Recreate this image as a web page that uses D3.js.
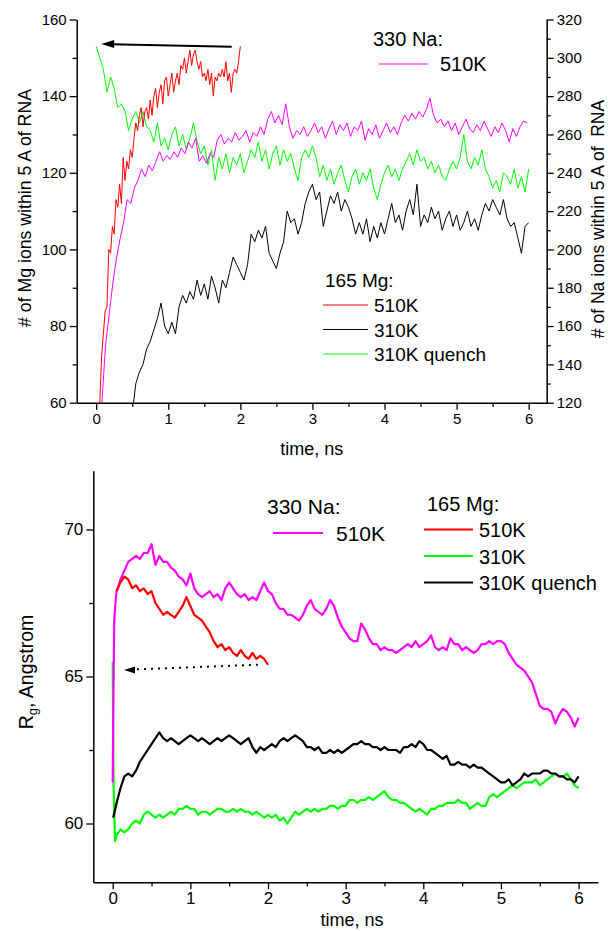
<!DOCTYPE html>
<html><head><meta charset="utf-8">
<script src="https://cdn.jsdelivr.net/npm/d3@7"></script>
<style>
body{margin:0;background:#fff}
svg{display:block}
text{font-family:"Liberation Sans",Arial,sans-serif;fill:#000}
</style></head>
<body><svg id="c" width="608" height="931"></svg>
<script>
// ---------- TOP PANEL DATA (ions within 5 A of RNA) ----------
// 165 Mg, 510K (Mg count), t from 0.05 ns, step 0.025 ns
const mg510Start = 0.05, mg510Step = 0.025;
const mg510 = [60,72,78,84,85,100,99,106,104,113,111,117,112,124,118,123,121,126,124,129,133,131,135,137,132,136,137,134,139,135,140,142,137,141,143,138,144,145,140,143,146,141,144,146,143,148,147,150,146,149,152,148,151,152,149,147,149,145,146,144,147,143,146,140,145,144,146,145,147,145,149,144,146,141,146,147,146,149,153];
// 165 Mg, 310K (Mg count), t from 0.5 ns, step 0.05
const mg310Start = 0.5, mg310Step = 0.05;
const mg310 = [57,65,68,70,74,76,79,82,86,80,78,81,78,85,88,86,89,87,92,88,91,87,93,90,86,92,90,94,98,96,94,92,96,104,102,105,103,106,99,97,95,99,102,110,107,108,104,107,112,115,117,113,115,106,110,114,112,115,110,113,111,108,104,107,104,108,102,106,103,107,104,108,112,107,109,105,110,113,109,117,106,109,107,111,108,110,105,108,110,106,109,105,107,110,106,108,105,109,112,110,113,111,109,113,108,106,107,103,99,106,107];
// 165 Mg, 310K quench (Mg count), t from 0 ns, step 0.05
const mgQStart = 0, mgQStep = 0.05;
const mgQuench = [153,150,147,141,145,142,137,138,136,131,134,136,133,136,132,131,128,133,127,129,126,130,132,127,130,126,129,133,128,125,127,122,126,118,124,121,125,120,124,122,125,120,123,126,124,128,123,126,121,125,127,122,126,123,125,121,118,124,126,124,127,124,119,122,118,121,117,120,122,118,115,119,121,117,120,118,121,116,113,117,120,122,119,121,118,121,123,125,122,126,123,124,121,123,120,122,119,118,121,123,121,124,130,123,121,124,122,126,121,119,116,118,115,120,119,117,121,116,119,115,121];
// 330 Na, 510K (Na count, right axis), t from 0.08 ns, step 0.05
const na510Start = 0.08, na510Step = 0.05;
const na510 = [120,150,166,182,195,205,214,226,224,232,236,242,238,244,241,246,251,246,249,247,251,248,253,250,256,253,258,246,249,245,250,248,257,260,255,258,256,261,257,259,262,256,261,259,264,260,268,272,266,270,265,276,264,258,262,260,264,259,262,266,261,264,258,263,267,260,265,262,266,259,264,262,267,257,263,260,265,258,262,266,261,264,260,266,270,267,271,268,272,269,273,279,270,266,268,264,267,262,266,260,264,268,263,261,265,262,267,263,259,264,261,266,262,256,263,259,264,267,266];

// ---------- BOTTOM PANEL DATA (Rg, Angstrom) ----------
// the first frames are sampled finely ([t, Rg] pairs), the rest every 0.05 ns
const rgStep = 0.05;
const rgNa510Head = [[0,61.4],[0.01,64.6],[0.02,66.9],[0.035,67.5]];
const rgNa510Start = 0.05;
const rgNa510 = [67.9,68.3,68.6,68.9,69.0,69.1,69.0,69.2,69.2,69.5,68.8,69.1,68.9,68.9,68.7,68.6,68.4,68.3,68.1,68.5,68.0,67.8,67.7,67.8,67.9,67.7,67.8,67.6,68.0,68.2,68.0,67.8,67.7,67.8,67.6,67.7,67.6,67.9,68.2,67.9,67.8,67.5,67.3,67.3,67.1,67.1,67.0,66.9,67.1,67.4,67.6,67.3,67.2,67.1,67.3,67.6,67.4,67.0,66.7,66.5,66.3,66.2,66.2,66.8,66.6,66.3,66.1,66.1,65.9,66.0,65.9,65.9,65.8,65.9,66.0,66.1,66.0,66.2,66.0,66.1,66.2,66.4,66.0,65.9,66.0,65.9,66.3,66.1,66.1,65.9,66.0,65.9,65.8,65.9,66.1,66.1,66.2,66.1,66.2,66.2,66.1,65.8,65.6,65.4,65.3,65.2,65.0,64.8,64.4,64.0,63.9,63.9,63.8,63.4,63.7,63.9,63.8,63.6,63.3,63.6];
const rgMg510Start = 0.05;
const rgMg510 = [67.9,68.2,68.4,68.3,68.0,68.1,67.9,68.0,67.8,67.9,67.5,67.3,67.1,67.2,67.1,67.0,67.2,67.4,67.7,67.4,67.1,67.0,66.9,66.7,66.5,66.2,66.0,66.1,65.9,66.0,65.8,65.7,65.9,65.7,65.6,65.8,65.6,65.7,65.6,65.4];
const rgMg310Head = [[0,65.5],[0.01,61.4],[0.03,59.4]];
const rgMg310Start = 0.05;
const rgMg310 = [59.6,59.8,59.7,59.8,60.0,60.1,60.0,60.3,60.4,60.3,60.2,60.3,60.2,60.3,60.4,60.3,60.5,60.5,60.6,60.5,60.5,60.3,60.4,60.4,60.3,60.4,60.5,60.5,60.4,60.4,60.5,60.4,60.5,60.4,60.4,60.3,60.4,60.3,60.2,60.3,60.2,60.3,60.1,60.2,60.0,60.2,60.4,60.3,60.4,60.5,60.4,60.5,60.4,60.5,60.5,60.6,60.6,60.5,60.6,60.6,60.8,60.8,60.7,60.8,60.8,60.9,60.8,60.9,61.0,61.1,60.9,60.8,60.8,60.7,60.7,60.6,60.5,60.4,60.5,60.4,60.3,60.5,60.5,60.6,60.6,60.7,60.7,60.7,60.8,60.7,60.7,60.5,60.6,60.7,60.6,60.6,60.9,61.0,60.9,61.0,61.1,61.2,61.3,61.2,61.3,61.4,61.4,61.4,61.5,61.3,61.4,61.5,61.6,61.7,61.6,61.6,61.7,61.5,61.3,61.2];
const rgMgQHead = [[0.005,60.2],[0.025,60.4]];
const rgMgQStart = 0.05;
const rgMgQuench = [60.7,61.2,61.6,61.7,61.6,61.8,62.1,62.3,62.5,62.7,62.9,63.1,62.9,62.8,62.9,62.8,62.7,62.8,62.9,63.0,62.9,62.8,62.9,62.8,62.7,62.8,62.9,62.8,62.9,63.0,62.9,62.8,62.7,62.8,62.9,62.6,62.4,62.6,62.5,62.6,62.7,62.6,62.8,62.9,62.8,62.9,63.0,62.9,62.8,62.6,62.6,62.5,62.6,62.4,62.4,62.5,62.4,62.5,62.4,62.5,62.6,62.7,62.7,62.8,62.7,62.7,62.6,62.6,62.5,62.6,62.5,62.5,62.5,62.4,62.6,62.6,62.7,62.6,62.8,62.7,62.5,62.5,62.4,62.3,62.2,62.3,62.0,62.0,62.1,62.0,62.0,61.9,62.0,61.9,61.9,61.8,61.7,61.6,61.5,61.4,61.4,61.5,61.3,61.4,61.5,61.7,61.6,61.7,61.7,61.7,61.8,61.8,61.7,61.7,61.6,61.6,61.5,61.5,61.4,61.6];

// ---------- AXES / TICKS ----------
const xTicks = [0,1,2,3,4,5,6];
const xMinor = [0.5,1.5,2.5,3.5,4.5,5.5];
const mgTicks = [60,80,100,120,140,160];
const mgMinor = [70,90,110,130,150];
const naTicks = [120,140,160,180,200,220,240,260,280,300,320];
const naMinor = [130,150,170,190,210,230,250,270,290,310];
const rgTicks = [60,65,70];
const rgMinor = [62.5,67.5];

const svg = d3.select("#c");
const toPts = (vals, t0, dt, head) =>
  (head || []).map(p=>({t:p[0], v:p[1]})).concat(vals.map((v,i)=>({t: t0 + i*dt, v})));

// ---------- TOP PANEL ----------
const xT = d3.scaleLinear().domain([-0.27, 6.25]).range([76.7, 546.7]);
const yMg = d3.scaleLinear().domain([60,160]).range([402.7, 19.5]);
const yNa = d3.scaleLinear().domain([120,320]).range([402.7, 19.5]);

svg.append("clipPath").attr("id","clipT").append("rect")
  .attr("x",76.7).attr("y",19.5).attr("width",470).attr("height",383.2);
svg.append("clipPath").attr("id","clipB").append("rect")
  .attr("x",93.3).attr("y",470.7).attr("width",505).attr("height",411.6);

const gT = svg.append("g").attr("clip-path","url(#clipT)");
function drawLine(g, pts, x, y, color, w){
  g.append("path").datum(pts).attr("fill","none").attr("stroke",color)
   .attr("stroke-width",w).attr("stroke-linejoin","round")
   .attr("d", d3.line().x(d=>x(d.t)).y(d=>y(d.v)));
}
drawLine(gT, toPts(mgQuench,mgQStart,mgQStep), xT, yMg, "#00ff00", 1);
drawLine(gT, toPts(na510,na510Start,na510Step), xT, yNa, "#ff00ff", 1);
drawLine(gT, toPts(mg310,mg310Start,mg310Step), xT, yMg, "#000000", 1);
drawLine(gT, toPts(mg510,mg510Start,mg510Step), xT, yMg, "#ff0000", 1);

function styleAxis(g, fs){
  g.selectAll(".domain").attr("stroke","#000").attr("stroke-width",1.5);
  g.selectAll(".tick line").attr("stroke","#000").attr("stroke-width",1.3);
  g.selectAll("text").attr("font-size",fs).attr("font-family","Liberation Sans, Arial, sans-serif").attr("fill","#000");
}
function addAxis(gen, majors, minors, transform, fs, pad){
  const g = svg.append("g").attr("transform",transform);
  g.call(gen.tickValues(majors).tickSize(7).tickSizeOuter(0).tickPadding(pad).tickFormat(d3.format("")));
  styleAxis(g, fs);
  const m = svg.append("g").attr("transform",transform);
  m.call(gen.tickValues(minors).tickSize(4).tickFormat(""));
  m.select(".domain").remove();
  m.selectAll(".tick line").attr("stroke","#000").attr("stroke-width",1.3);
  return g;
}
addAxis(d3.axisBottom(xT), xTicks, xMinor, "translate(0,402.7)", 15, 4);
addAxis(d3.axisLeft(yMg), mgTicks, mgMinor, "translate(76.7,0)", 15, 3);
addAxis(d3.axisRight(yNa), naTicks, naMinor, "translate(546.7,0)", 15, 3);

svg.append("text").attr("x",311.7).attr("y",455).attr("text-anchor","middle")
  .attr("font-size",18).text("time, ns");
svg.append("text").attr("transform","translate(31,208) rotate(-90)").attr("text-anchor","middle")
  .attr("font-size",17.7).text("# of Mg ions within 5 A of RNA");
svg.append("text").attr("transform","translate(604,219) rotate(-90)").attr("text-anchor","middle")
  .attr("font-size",17.5).style("white-space","pre").text("# of Na ions within 5 A of  RNA");

// top arrow
svg.append("line").attr("x1",xT(1.88)).attr("y1",yMg(152.9)).attr("x2",xT(0.2)).attr("y2",yMg(153.55))
  .attr("stroke","#000").attr("stroke-width",2);
{
  const tx = xT(0.07), ty = yMg(153.6);
  svg.append("path").attr("d",`M${tx},${ty} L${tx+13},${ty-4} L${tx+13},${ty+4} Z`).attr("fill","#000");
}

// top legends
svg.append("text").attr("x",373).attr("y",46).attr("font-size",20).text("330 Na:");
svg.append("line").attr("x1",379).attr("x2",428).attr("y1",64).attr("y2",64).attr("stroke","#ff00ff").attr("stroke-width",1);
svg.append("text").attr("x",440).attr("y",71).attr("font-size",20).text("510K");

svg.append("text").attr("x",325).attr("y",287).attr("font-size",19).text("165 Mg:");
const topLeg = [["510K","#ff0000"],["310K","#000000"],["310K quench","#00ff00"]];
topLeg.forEach((d,i)=>{
  const y = 305 + i*24.5;
  svg.append("line").attr("x1",323).attr("x2",368).attr("y1",y).attr("y2",y).attr("stroke",d[1]).attr("stroke-width",1);
  svg.append("text").attr("x",374).attr("y",y+7).attr("font-size",19).text(d[0]);
});

// ---------- BOTTOM PANEL ----------
const xB = d3.scaleLinear().domain([-0.25, 6.25]).range([93.3, 598]);
const yRg = d3.scaleLinear().domain([58,72]).range([882.3, 470.7]);
const gB = svg.append("g").attr("clip-path","url(#clipB)");
drawLine(gB, toPts(rgMg310,rgMg310Start,rgStep,rgMg310Head), xB, yRg, "#00ff00", 2.2);
drawLine(gB, toPts(rgMgQuench,rgMgQStart,rgStep,rgMgQHead), xB, yRg, "#000000", 2.2);
drawLine(gB, toPts(rgNa510,rgNa510Start,rgStep,rgNa510Head), xB, yRg, "#ff00ff", 2.2);
drawLine(gB, toPts(rgMg510,rgMg510Start,rgStep), xB, yRg, "#ff0000", 2.2);

addAxis(d3.axisBottom(xB), xTicks, xMinor, "translate(0,882.3)", 17, 3);
addAxis(d3.axisLeft(yRg), rgTicks, rgMinor, "translate(93.3,0)", 17, 3);

svg.append("text").attr("x",352).attr("y",926).attr("text-anchor","middle")
  .attr("font-size",18).text("time, ns");
{
  const t = svg.append("text").attr("transform","translate(33,672) rotate(-90)").attr("text-anchor","middle").attr("font-size",19.5);
  t.append("tspan").text("R");
  t.append("tspan").attr("font-size",13).attr("dy",4).text("g");
  t.append("tspan").attr("dy",-4).text(", Angstrom");
}

// dotted arrow
svg.append("line").attr("x1",xB(1.87)).attr("y1",yRg(65.4)).attr("x2",xB(0.28)).attr("y2",yRg(65.24))
  .attr("stroke","#000").attr("stroke-width",2).attr("stroke-dasharray","2,5");
{
  const tx = xB(0.145), ty = yRg(65.22);
  svg.append("path").attr("d",`M${tx},${ty} L${tx+11},${ty-3.5} L${tx+11},${ty+3.5} Z`).attr("fill","#000");
}

// bottom legends
svg.append("text").attr("x",267).attr("y",514).attr("font-size",21).text("330 Na:");
svg.append("line").attr("x1",273).attr("x2",323).attr("y1",533).attr("y2",533).attr("stroke","#ff00ff").attr("stroke-width",2.2);
svg.append("text").attr("x",336).attr("y",541).attr("font-size",21).text("510K");

svg.append("text").attr("x",427).attr("y",511).attr("font-size",20).text("165 Mg:");
const botLeg = [["510K","#ff0000"],["310K","#00ff00"],["310K quench","#000000"]];
botLeg.forEach((d,i)=>{
  const y = 529.5 + i*26.5;
  svg.append("line").attr("x1",424).attr("x2",473).attr("y1",y).attr("y2",y).attr("stroke",d[1]).attr("stroke-width",2.2);
  svg.append("text").attr("x",479).attr("y",y+7.5).attr("font-size",20).text(d[0]);
});
</script></body></html>
